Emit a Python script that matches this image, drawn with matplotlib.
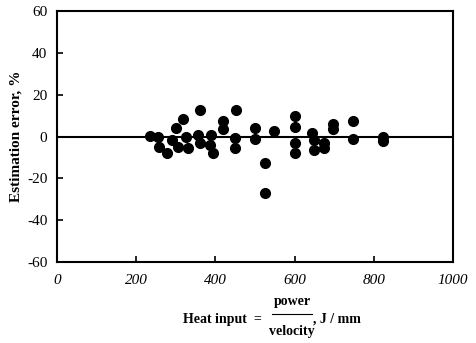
import matplotlib
matplotlib.use("Agg")
import matplotlib.pyplot as plt
from matplotlib.lines import Line2D

plt.rcParams['font.family'] = ['Liberation Serif', 'DejaVu Serif']
plt.rcParams['axes.unicode_minus'] = False

heat_input = [235, 256, 258, 279, 290, 300, 306, 319, 327, 331, 356, 361, 361,
              386, 390, 394, 420, 420, 449, 449, 452, 500, 500, 525, 525, 548,
              600, 600, 600, 600, 643, 648, 649, 673, 674, 698, 698, 748, 748,
              824, 824]
est_error = [0.4, 0, -4.9, -8, -1.5, 3.9, -4.9, 8.4, 0, -5.5, 0.7, 12.7, -3,
             -4, 0.5, -8, 7.4, 3.4, -0.9, -5.3, 12.7, 3.9, -1.2, -12.5, -27.2, 2.6,
             10, 4.7, -3, -8, 1.5, -1.7, -6.3, -3.3, -5.6, 5.8, 3.6, 7.4, -1.2,
             0, -2]
x_ticks = [0, 200, 400, 600, 800, 1000]
y_ticks = [-60, -40, -20, 0, 20, 40, 60]

fig = plt.figure(figsize=(4.76, 3.43), dpi=100)
ax = fig.add_axes([57/476, 1-262/343, 396/476, 251/343])

ax.axhline(0, color='black', lw=1.5, zorder=1)
ax.plot(heat_input, est_error, 'o', color='black', markersize=7, zorder=2)

ax.set_xlim(0, 1000)
ax.set_ylim(-60, 60)
ax.set_xticks(x_ticks)
ax.set_xticklabels([str(v) for v in x_ticks], fontstyle='italic', fontsize=11)
ax.set_yticks(y_ticks)
ax.set_yticklabels([str(v) for v in y_ticks], fontsize=11)
ax.tick_params(direction='in', length=4, width=1.2)
ax.tick_params(axis='x', pad=9)
ax.tick_params(axis='y', pad=7)
for s in ax.spines.values():
    s.set_linewidth(1.5)

ax.set_ylabel('Estimation error, %', fontsize=11, fontweight='bold', labelpad=3)

# x label with fraction
ty = 1 - 319/343
fig.text(262/476, ty, 'Heat input  =', ha='right', va='center', fontsize=10, fontweight='bold')
fig.text(292/476, 1 - 301/343, 'power', ha='center', va='center', fontsize=10, fontweight='bold')
fig.text(292/476, 1 - 331/343, 'velocity', ha='center', va='center', fontsize=10, fontweight='bold')
fig.add_artist(Line2D([272/476, 312/476], [1 - 314/343, 1 - 314/343], color='black', lw=0.8))
fig.text(313/476, ty, ', J / mm', ha='left', va='center', fontsize=10, fontweight='bold')

fig.savefig('out.png', dpi=100)
